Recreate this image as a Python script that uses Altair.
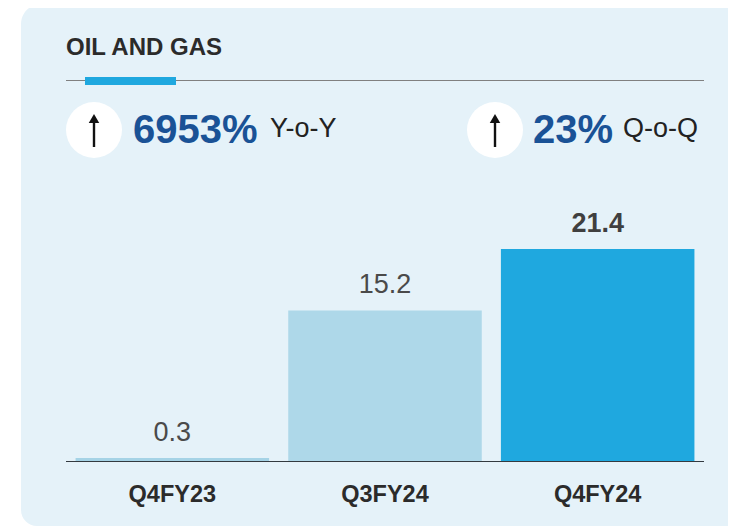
import altair as alt
import pandas as pd

categories = ["Q4FY23", "Q3FY24", "Q4FY24"]
values = [0.3, 15.2, 21.4]
bar_colors = ["#a5d3e6", "#aed8e9", "#1fa8df"]
title_text = "OIL AND GAS"
kpi_values = ["6953%", "23%"]
kpi_units = ["Y-o-Y", "Q-o-Q"]

OX, OY = 8, 8  # page margin


def px(v):
    return alt.value(v - OX)


def py(v):
    return alt.value(v - OY)


df = pd.DataFrame({"cat": categories, "val": values, "color": bar_colors})
one = pd.DataFrame({"a": [0]})

x_scale = alt.Scale(domain=categories, range=[66 - OX, 704 - OX], paddingInner=0.09, paddingOuter=0.045)
y_scale = alt.Scale(domain=[0, 21.4], range=[461 - OY, 249 - OY], nice=False, zero=True)
x_enc = alt.X("cat:N", scale=x_scale, axis=None)
y_enc = alt.Y("val:Q", scale=y_scale, axis=None)

card = alt.Chart(one).mark_rect(
    color="#e5f2f9", cornerRadiusTopLeft=20, cornerRadiusBottomLeft=16,
).encode(x=px(21), x2=px(745), y=py(4), y2=py(526))

bars = alt.Chart(df).mark_bar().encode(
    x=x_enc, y=y_enc,
    color=alt.Color("color:N", scale=None),
)
baseline = alt.Chart(one).mark_rule(color="#333a40", strokeWidth=1).encode(x=px(66), x2=px(704), y=py(461.5))

VAL = dict(font="Liberation Sans", fontSize=27, baseline="alphabetic", align="center", dy=-17)
lab_plain = alt.Chart(df).transform_filter(alt.datum.cat != categories[2]).mark_text(
    color="#4a4a4a", **VAL).encode(x=x_enc, y=y_enc, text=alt.Text("val:Q", format=".1f"))
lab_bold = alt.Chart(df).transform_filter(alt.datum.cat == categories[2]).mark_text(
    color="#3f3f3f", fontWeight="bold", **VAL).encode(x=x_enc, y=y_enc, text=alt.Text("val:Q", format=".1f"))
cat_labels = alt.Chart(df).mark_text(
    font="Liberation Sans", fontSize=23.5, fontWeight="bold", color="#2b2b2b",
    baseline="alphabetic", align="center",
).encode(x=x_enc, y=py(502), text="cat:N")


def text(s, x, y, size, color, weight="normal"):
    return alt.Chart(one).mark_text(
        text=s, font="Liberation Sans", fontSize=size, fontWeight=weight, color=color,
        align="left", baseline="alphabetic",
    ).encode(x=px(x), y=py(y))


def arrow(cx):
    circle = alt.Chart(one).mark_point(filled=True, opacity=1, color="white", size=3136, shape="circle", strokeWidth=0).encode(x=px(cx), y=py(130))
    shaft = alt.Chart(one).mark_rule(color="#111111", strokeWidth=2.4).encode(x=px(cx), y=py(120), y2=py(147))
    head = alt.Chart(one).mark_point(filled=True, opacity=1, color="#111111", shape="triangle-up", size=110, strokeWidth=0).encode(x=px(cx), y=py(118.5))
    return circle + shaft + head


chart = alt.layer(
    card,
    text(title_text, 66, 55, 24, "#2b2b2b", "bold"),
    alt.Chart(one).mark_rule(color="#808080", strokeWidth=1).encode(x=px(66), x2=px(704), y=py(80.5)),
    alt.Chart(one).mark_rect(color="#1fa8df").encode(x=px(85), x2=px(176), y=py(77), y2=py(85)),
    arrow(94),
    arrow(495),
    text(kpi_values[0], 133, 143, 40, "#1a5296", "bold"),
    text(kpi_units[0], 270, 137, 27, "#222222"),
    text(kpi_values[1], 533, 143, 40, "#1a5296", "bold"),
    text(kpi_units[1], 623, 137, 27, "#222222"),
    bars, baseline, lab_plain, lab_bold, cat_labels,
).properties(
    width=720, height=518, padding=0,
    autosize=alt.AutoSizeParams(type="none"), background="white",
).configure_view(stroke=None)

chart.save("out.html", embed_options={"renderer": "svg", "actions": False})
